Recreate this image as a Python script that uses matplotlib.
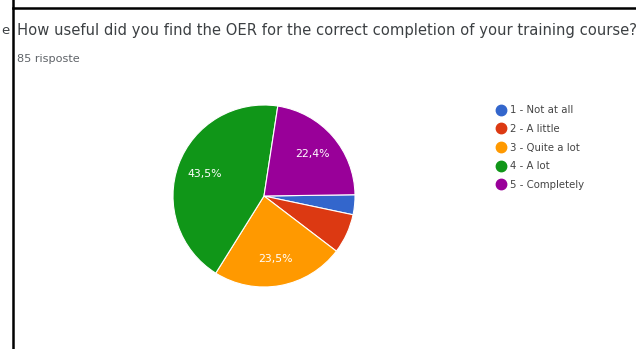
import matplotlib.pyplot as plt
from matplotlib.lines import Line2D

plt.rcParams['font.family'] = ['DejaVu Sans']

# survey answers (85 replies)
labels = ['1 - Not at all', '2 - A little', '3 - Quite a lot', '4 - A lot', '5 - Completely']
counts = [3, 6, 20, 37, 19]
colors = ['#3366cc', '#dc3912', '#ff9900', '#109618', '#990099']

title = 'How useful did you find the OER for the correct completion of your training course?'
subtitle = '85 risposte'

W, H = 636, 349
fig = plt.figure(figsize=(W / 100, H / 100), dpi=100)
fig.patch.set_facecolor('white')
renderer = fig.canvas.get_renderer()


def fit_text(x, y, s, width_px, **kw):
    # place text and scale its size so it spans width_px pixels
    t = fig.text(x / W, 1 - y / H, s, fontsize=10, va='center', **kw)
    w = t.get_window_extent(renderer).width
    t.set_fontsize(10 * width_px / w)
    return t


# frame lines of the form card
fig.add_artist(Line2D([13 / W, 13 / W], [0, 1], color='black', lw=1.8))
fig.add_artist(Line2D([13 / W, 1], [1 - 8 / H, 1 - 8 / H], color='black', lw=1.8))

fig.text(1 / W, 1 - 31 / H, 'e', fontsize=9.5, color='#3c4043', va='center')
fit_text(17, 31, title, 614, color='#3c4043')
fit_text(17, 59, subtitle, 63, color='#5f6368')


def pct_label(p):
    if p < 10:
        return ''
    return ('%.1f%%' % p).replace('.', ',')


r = 91
cx, cy = 264, 196
ax = fig.add_axes([(cx - r) / W, (H - cy - r) / H, 2 * r / W, 2 * r / H])
wedges, texts, autotexts = ax.pie(
    counts, colors=colors, startangle=0.8, counterclock=False,
    autopct=pct_label, pctdistance=0.7,
    wedgeprops=dict(edgecolor='white', linewidth=0.8),
    textprops=dict(color='white', fontsize=7.8))
ax.set_xlim(-1, 1)
ax.set_ylim(-1, 1)

handles = [Line2D([0], [0], marker='o', color='none', markerfacecolor=c,
                  markeredgecolor=c, markersize=7.5) for c in colors]
fig.legend(handles, labels, loc='upper left',
           bbox_to_anchor=(487 / W, 1 - 96 / H), frameon=False,
           fontsize=7.3, labelspacing=0.86, handlelength=1.0,
           handletextpad=0.35, labelcolor='#444444')

fig.savefig('out.png', dpi=100)
